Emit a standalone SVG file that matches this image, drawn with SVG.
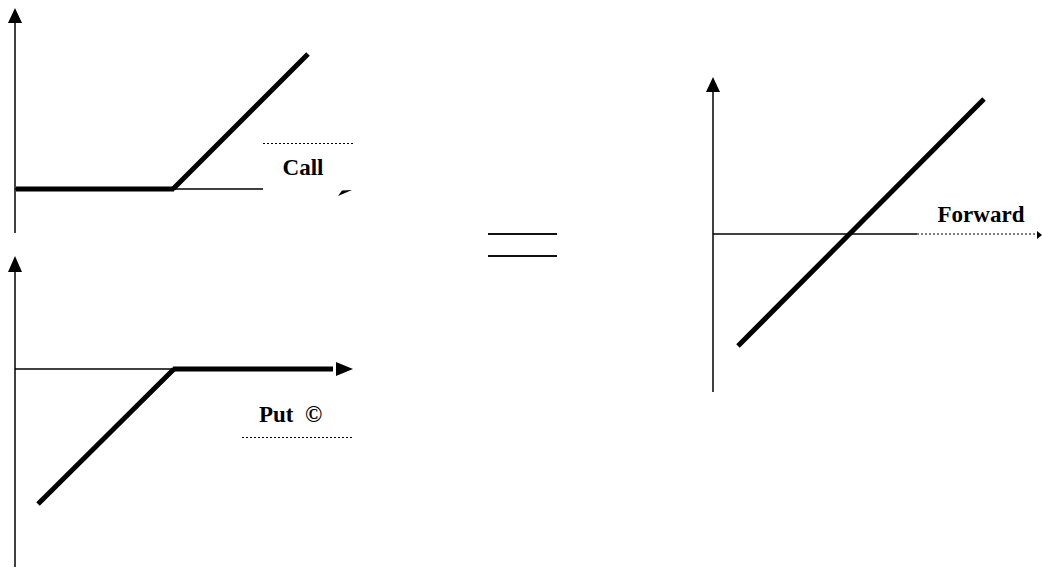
<svg xmlns="http://www.w3.org/2000/svg" width="1042" height="569" viewBox="0 0 1042 569">
<style>
.axis{stroke:#000;stroke-width:1.5;fill:none}
.thick{stroke:#000;stroke-width:5;fill:none}
.dot{stroke:#000;stroke-width:1;stroke-dasharray:2 2;fill:none}
.lbl{font-family:"Liberation Serif","Times New Roman",serif;font-weight:bold;font-size:23px;fill:#000}
.arr{fill:#000}
.eq{stroke:#111;stroke-width:2}
</style>
<rect width="1042" height="569" fill="#fff"/>
<g id="call">
  <line class="axis" x1="15" y1="20" x2="15" y2="233"/>
  <polygon class="arr" points="15,8 8,23 22,23"/>
  <line class="axis" x1="15" y1="189" x2="263" y2="189"/>
  <line class="thick" x1="16" y1="189" x2="174" y2="189"/>
  <line class="thick" x1="173" y1="189" x2="308" y2="54"/>
  <line class="dot" x1="263" y1="143.5" x2="353" y2="143.5"/>
  <polygon class="arr" points="338,196 342,190.5 352,190"/>
  <text class="lbl" x="303" y="175" text-anchor="middle">Call</text>
</g>
<g id="put">
  <line class="axis" x1="15" y1="268" x2="15" y2="567"/>
  <polygon class="arr" points="15,256 8,272 22,272"/>
  <line class="axis" x1="15" y1="369" x2="173" y2="369"/>
  <line class="thick" x1="173" y1="369" x2="333" y2="369"/>
  <polygon class="arr" points="353,369 336,362 336,376"/>
  <line class="thick" x1="174" y1="369" x2="38" y2="504"/>
  <text class="lbl" x="259" y="422">Put&#160; ©</text>
  <line class="dot" x1="242" y1="437.5" x2="353" y2="437.5"/>
</g>
<g id="equals">
  <line class="eq" x1="488" y1="234" x2="557" y2="234"/>
  <line class="eq" x1="488" y1="256" x2="557" y2="256"/>
</g>
<g id="forward">
  <line class="axis" x1="713" y1="88" x2="713" y2="392"/>
  <polygon class="arr" points="713,77 706,92 720,92"/>
  <line class="axis" x1="713" y1="234" x2="917" y2="234"/>
  <line class="dot" x1="917" y1="234" x2="1038" y2="234"/>
  <polygon class="arr" points="1042,235 1037,231 1037,239"/>
  <line class="thick" x1="738" y1="346" x2="984" y2="99"/>
  <text class="lbl" x="981" y="222" text-anchor="middle">Forward</text>
</g>
</svg>
